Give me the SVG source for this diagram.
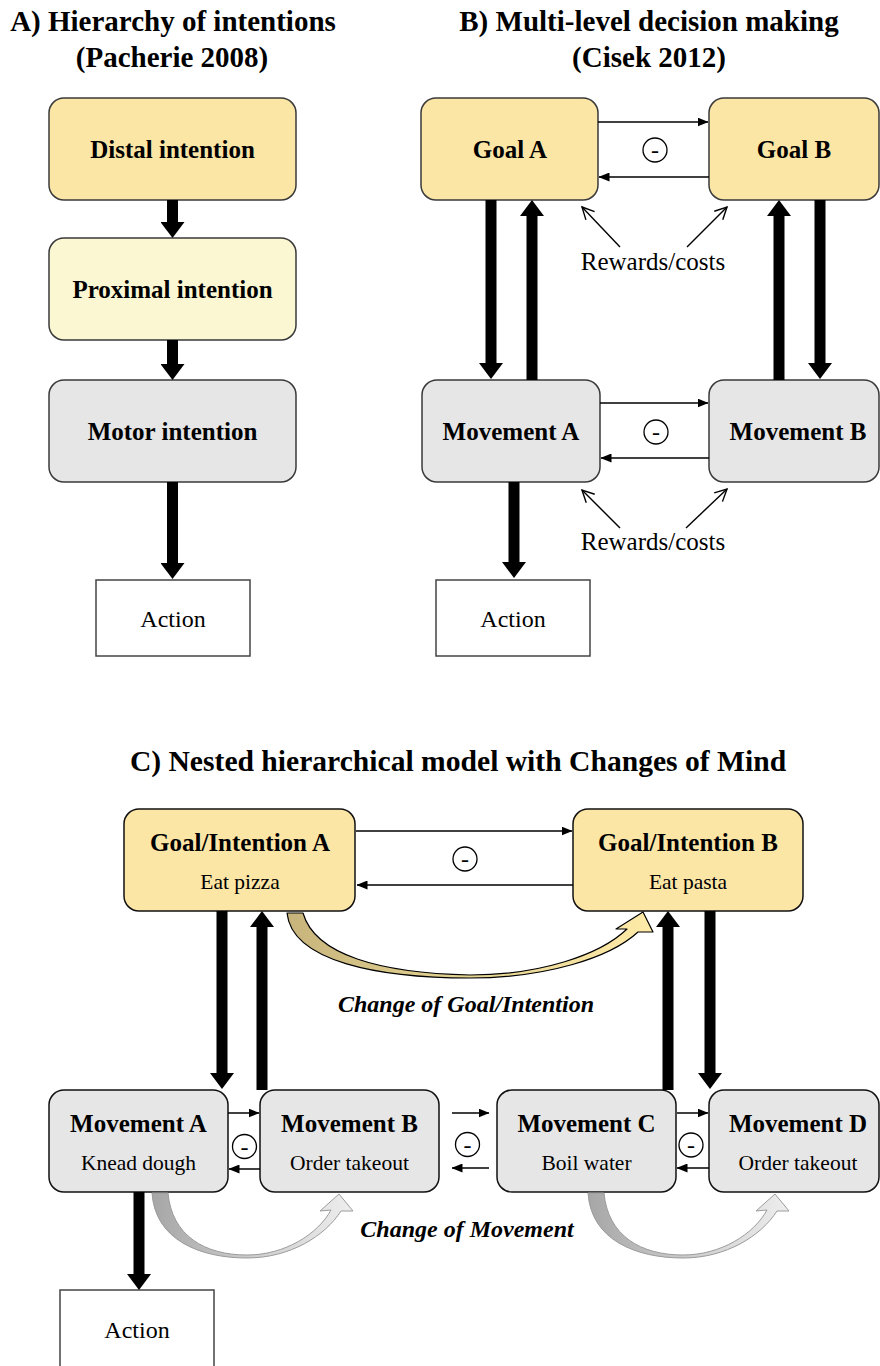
<svg xmlns="http://www.w3.org/2000/svg" width="880" height="1366" viewBox="0 0 880 1366">
<style>
text{font-family:"Liberation Serif","Times New Roman",serif;fill:#000}
.title{font-size:29px;font-weight:bold;text-anchor:middle}
.titleC{font-size:29.6px;font-weight:bold;text-anchor:middle}
.lbl{font-size:25px;font-weight:bold;text-anchor:middle}
.sub{font-size:21.5px;text-anchor:middle}
.plain{font-size:24px;text-anchor:middle}
.rw{font-size:25px;text-anchor:middle}
.it{font-size:24px;font-weight:bold;font-style:italic;text-anchor:middle}
.minus{font-size:24px;text-anchor:middle}
.goal{fill:#FCE6A6;stroke:#3a3a3a;stroke-width:1.5}
.prox{fill:#FAF7D2;stroke:#3a3a3a;stroke-width:1.5}
.mov{fill:#E6E6E6;stroke:#3a3a3a;stroke-width:1.5}
.act{fill:#fff;stroke:#444;stroke-width:1.5}
.thick{stroke:#000;stroke-width:11;fill:none;marker-end:url(#bigHead)}
.thin{stroke:#000;stroke-width:1.5;fill:none;marker-end:url(#smallHead)}
.open{stroke:#000;stroke-width:1.4;fill:none;marker-end:url(#openHead)}
.circ{fill:#fff;stroke:#000;stroke-width:1.3}
</style>
<defs>
<marker id="bigHead" markerUnits="userSpaceOnUse" markerWidth="16" markerHeight="24" viewBox="0 0 16 24" refX="0" refY="12" orient="auto">
<path d="M0,0 L16,12 L0,24 Z" fill="#000"/>
</marker>
<marker id="smallHead" markerUnits="userSpaceOnUse" markerWidth="11" markerHeight="9" viewBox="0 0 11 9" refX="10.5" refY="4.5" orient="auto">
<path d="M0,0 L11,4.5 L0,9 Z" fill="#000"/>
</marker>
<marker id="openHead" markerUnits="userSpaceOnUse" markerWidth="16" markerHeight="16" viewBox="-2 -2 16 16" refX="12" refY="6" orient="auto" overflow="visible">
<path d="M0,0 L12,6 L0,12" fill="none" stroke="#000" stroke-width="1.4"/>
</marker>
<linearGradient id="goldGrad" x1="0" y1="0" x2="1" y2="0">
<stop offset="0" stop-color="#C7B47C"/>
<stop offset="0.5" stop-color="#E6D493"/>
<stop offset="1" stop-color="#FFEBA8"/>
</linearGradient>
<linearGradient id="grayGrad" x1="0" y1="0" x2="1" y2="0">
<stop offset="0" stop-color="#A6A6A6"/>
<stop offset="0.5" stop-color="#CDCDCD"/>
<stop offset="1" stop-color="#EEEEEE"/>
</linearGradient>
<path id="grayArrow" d="M152,1193 C155,1240 200,1258 247,1258 C290,1258 325,1236 341,1211 L353,1211 L339,1194 L320,1211 L331,1210 C318,1234 285,1255 247,1255 C205,1255 172,1236 168,1193 Z"/>
</defs>

<!-- Titles -->
<g id="titles">
<text class="title" x="173" y="31">A) Hierarchy of intentions</text>
<text class="title" x="172" y="67">(Pacherie 2008)</text>
<text class="title" x="649" y="31">B) Multi-level decision making</text>
<text class="title" x="649" y="67">(Cisek 2012)</text>
<text class="titleC" x="458" y="771">C) Nested hierarchical model with Changes of Mind</text>
</g>

<!-- Panel A nodes -->
<g id="a-distal"><rect class="goal" x="49" y="98" width="247" height="102" rx="15"/><text class="lbl" x="172.5" y="158">Distal intention</text></g>
<g id="a-proximal"><rect class="prox" x="49" y="238" width="247" height="102" rx="15"/><text class="lbl" x="172.5" y="298">Proximal intention</text></g>
<g id="a-motor"><rect class="mov" x="49" y="380" width="247" height="102" rx="15"/><text class="lbl" x="172.5" y="440">Motor intention</text></g>
<g id="a-action"><rect class="act" x="96" y="580" width="154" height="76"/><text class="plain" x="173" y="627">Action</text></g>

<!-- Panel B nodes -->
<g id="b-goalA"><rect class="goal" x="421" y="98" width="177" height="102" rx="15"/><text class="lbl" x="510" y="158">Goal A</text></g>
<g id="b-goalB"><rect class="goal" x="709" y="98" width="170" height="102" rx="15"/><text class="lbl" x="794" y="158">Goal B</text></g>
<g id="b-movA"><rect class="mov" x="422" y="380" width="178" height="102" rx="15"/><text class="lbl" x="511" y="440">Movement A</text></g>
<g id="b-movB"><rect class="mov" x="709" y="380" width="170" height="102" rx="15"/><text class="lbl" x="798" y="440">Movement B</text></g>
<g id="b-action"><rect class="act" x="436" y="580" width="154" height="76"/><text class="plain" x="513" y="627">Action</text></g>
<g id="b-rewards1"><text class="rw" x="653" y="270">Rewards/costs</text></g>
<g id="b-rewards2"><text class="rw" x="653" y="550">Rewards/costs</text></g>

<!-- Panel C nodes -->
<g id="c-goalA"><rect class="goal" x="124" y="809" width="231" height="102" rx="15" style="stroke:#111"/><text class="lbl" x="240" y="851">Goal/Intention A</text><text class="sub" x="240" y="889">Eat pizza</text></g>
<g id="c-goalB"><rect class="goal" x="573" y="809" width="230" height="102" rx="15" style="stroke:#111"/><text class="lbl" x="688" y="851">Goal/Intention B</text><text class="sub" x="688" y="889">Eat pasta</text></g>
<g id="c-movA"><rect class="mov" x="49" y="1090" width="179" height="102" rx="15" style="stroke:#111"/><text class="lbl" x="138.5" y="1132">Movement A</text><text class="sub" x="138.5" y="1170">Knead dough</text></g>
<g id="c-movB"><rect class="mov" x="260" y="1090" width="179" height="102" rx="15" style="stroke:#111"/><text class="lbl" x="349.5" y="1132">Movement B</text><text class="sub" x="349.5" y="1170">Order takeout</text></g>
<g id="c-movC"><rect class="mov" x="497" y="1090" width="179" height="102" rx="15" style="stroke:#111"/><text class="lbl" x="586.5" y="1132">Movement C</text><text class="sub" x="586.5" y="1170">Boil water</text></g>
<g id="c-movD"><rect class="mov" x="709" y="1090" width="170" height="102" rx="15" style="stroke:#111"/><text class="lbl" x="798" y="1132">Movement D</text><text class="sub" x="798" y="1170">Order takeout</text></g>
<g id="c-action"><rect class="act" x="60" y="1290" width="154" height="90"/><text class="plain" x="137" y="1338">Action</text></g>
<g id="c-labels">
<text class="it" x="466" y="1012">Change of Goal/Intention</text>
<text class="it" x="467" y="1237">Change of Movement</text>
</g>

<!-- Connectors -->
<g id="connectors">
<!-- Panel A thick -->
<line class="thick" x1="172.5" y1="200" x2="172.5" y2="222"/>
<line class="thick" x1="172.5" y1="340" x2="172.5" y2="364"/>
<line class="thick" x1="172.5" y1="482" x2="172.5" y2="563"/>
<!-- Panel B thick -->
<line class="thick" x1="491" y1="200" x2="491" y2="363"/>
<line class="thick" x1="532" y1="380" x2="532" y2="216"/>
<line class="thick" x1="779" y1="380" x2="779" y2="216"/>
<line class="thick" x1="820" y1="200" x2="820" y2="363"/>
<line class="thick" x1="514" y1="482" x2="514" y2="562"/>
<!-- Panel B thin -->
<line class="thin" x1="598" y1="122" x2="708" y2="122"/>
<line class="thin" x1="709" y1="177" x2="599" y2="177"/>
<line class="thin" x1="600" y1="403" x2="708" y2="403"/>
<line class="thin" x1="709" y1="458" x2="601" y2="458"/>
<circle class="circ" cx="655" cy="150" r="12"/><text class="minus" x="655" y="158">-</text>
<circle class="circ" cx="656" cy="432" r="12"/><text class="minus" x="656" y="440">-</text>
<line class="open" x1="620" y1="247" x2="582" y2="207"/>
<line class="open" x1="687" y1="247" x2="727" y2="207"/>
<line class="open" x1="620" y1="528" x2="582" y2="490"/>
<line class="open" x1="686" y1="528" x2="727" y2="489"/>
<!-- Panel C thick -->
<line class="thick" x1="222" y1="911" x2="222" y2="1073"/>
<line class="thick" x1="262" y1="1090" x2="262" y2="927"/>
<line class="thick" x1="668" y1="1090" x2="668" y2="927"/>
<line class="thick" x1="710" y1="911" x2="710" y2="1073"/>
<line class="thick" x1="139" y1="1192" x2="139" y2="1274"/>
<!-- Panel C thin -->
<line class="thin" x1="356" y1="831" x2="572" y2="831"/>
<line class="thin" x1="573" y1="885" x2="357" y2="885"/>
<circle class="circ" cx="465" cy="859" r="12"/><text class="minus" x="465" y="867">-</text>
<line class="thin" x1="228" y1="1113" x2="259" y2="1113"/>
<line class="thin" x1="260" y1="1169" x2="229" y2="1169"/>
<circle class="circ" cx="244.5" cy="1146.5" r="12"/><text class="minus" x="244.5" y="1154.5">-</text>
<line class="thin" x1="452" y1="1113" x2="489" y2="1113"/>
<line class="thin" x1="489" y1="1168" x2="452" y2="1168"/>
<circle class="circ" cx="467.5" cy="1144.5" r="12"/><text class="minus" x="467.5" y="1152.5">-</text>
<line class="thin" x1="677" y1="1113" x2="708" y2="1113"/>
<line class="thin" x1="709" y1="1168" x2="677" y2="1168"/>
<circle class="circ" cx="691" cy="1145" r="12"/><text class="minus" x="691" y="1153">-</text>
<!-- Curved change arrows -->
<path d="M287,913 C292,962 380,978 470,978 C545,978 610,958 638,932 L653,932 L643,912 L616,929 L627,929 C600,955 540,975 470,975 C380,973 315,955 303,913 Z" fill="url(#goldGrad)" stroke="#000" stroke-width="1.2" stroke-linejoin="round"/>
<use href="#grayArrow" fill="url(#grayGrad)" stroke="#9C9C9C" stroke-width="1"/>
<use href="#grayArrow" transform="translate(436,0)" fill="url(#grayGrad)" stroke="#9C9C9C" stroke-width="1"/>
</g>
</svg>
